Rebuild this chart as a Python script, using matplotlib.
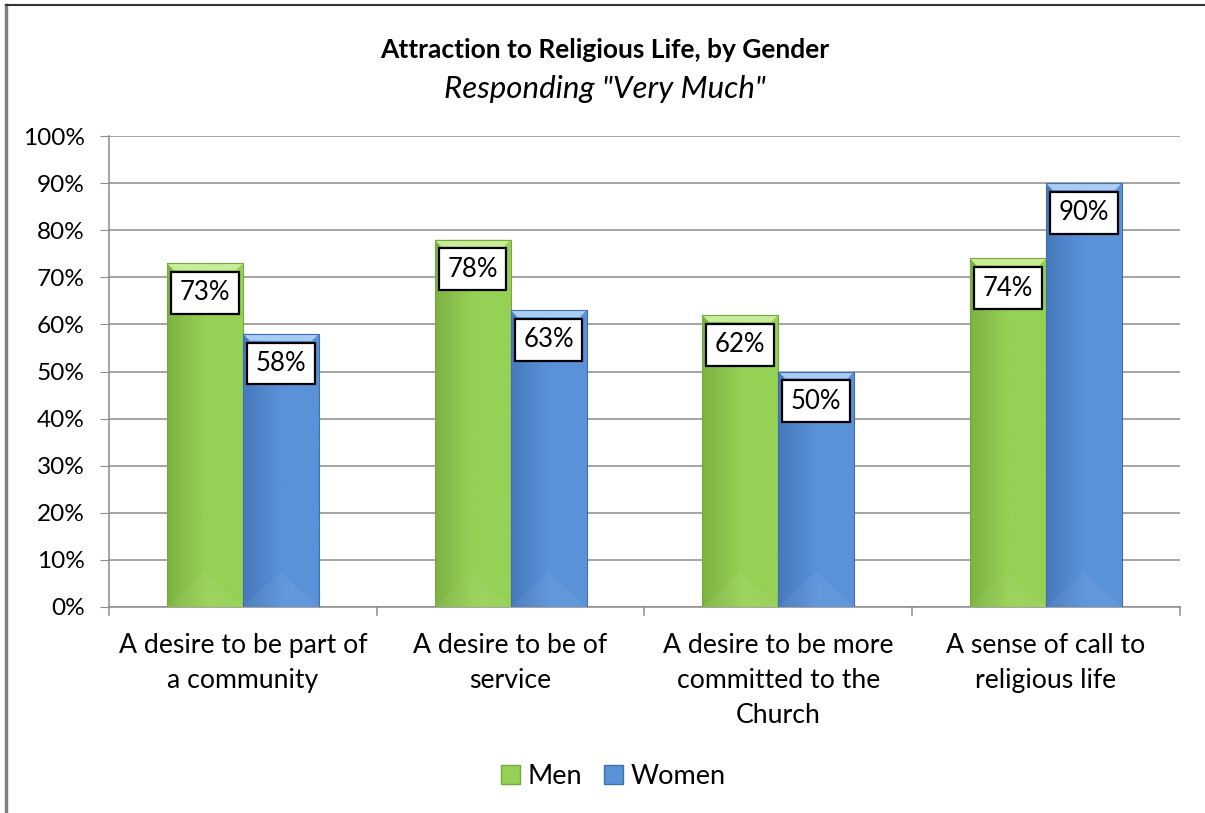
import numpy as np
import matplotlib.pyplot as plt
from matplotlib.patches import Polygon, Rectangle, Patch
from matplotlib.colors import LinearSegmentedColormap

plt.rcParams['font.family'] = ['Lato', 'DejaVu Sans']

# --- data ---
categories = ["A desire to be part of\na community",
              "A desire to be of\nservice",
              "A desire to be more\ncommitted to the\nChurch",
              "A sense of call to\nreligious life"]
men = [73, 78, 62, 74]
women = [58, 63, 50, 90]
series_names = ["Men", "Women"]

# colours: (dark left, main right, top bevel, edge)
styles = {
    "Men": ("#7DB343", "#95D155", "#C8EC98", "#76A83E"),
    "Women": ("#4779BD", "#5A92D8", "#A8CCF2", "#3F6FAE"),
}

fig = plt.figure(figsize=(12.05, 8.13), dpi=100)
ax = fig.add_axes([0.0905, 0.2534, 0.8885, 0.5793])

x = np.arange(len(categories))
w = 0.284
bev_y = 1.5
bev_x = 0.026


def bevel_bar(xc, val, name):
    dark, main, top, edge = styles[name]
    x0, x1 = xc - w / 2, xc + w / 2
    rect = Rectangle((x0, 0), w, val, facecolor=main, edgecolor='none', zorder=3)
    ax.add_patch(rect)
    cmap = LinearSegmentedColormap.from_list(name, [dark, main, main])
    grad = np.linspace(0, 1, 64).reshape(1, -1)
    im = ax.imshow(grad, cmap=cmap, extent=[x0, x1, 0, val], aspect='auto',
                   zorder=3.1, interpolation='bilinear')
    im.set_clip_path(rect)
    # bottom "roof" highlight
    ax.add_patch(Polygon([[x0, 0], [xc, 7.5], [x1, 0]], closed=True,
                         facecolor='white', alpha=0.05, edgecolor='none', zorder=3.2))
    # top bevel
    ax.add_patch(Polygon([[x0, val], [x1, val], [x1 - bev_x, val - bev_y],
                          [x0 + bev_x, val - bev_y]], closed=True,
                         facecolor=top, edgecolor='none', zorder=3.3))
    ax.add_patch(Rectangle((x0, 0), w, val, facecolor='none', edgecolor=edge,
                           linewidth=0.8, zorder=3.4))
    ax.text(xc, val - 6.3, f"{val}%", ha='center', va='center', fontsize=18.5,
            zorder=5,
            bbox=dict(boxstyle='square,pad=0.33', facecolor='white',
                      edgecolor='black', linewidth=1.6))


for i in range(len(categories)):
    bevel_bar(x[i] - w / 2, men[i], "Men")
    bevel_bar(x[i] + w / 2, women[i], "Women")

ax.set_xlim(-0.5, len(categories) - 0.5)
ax.set_ylim(0, 100)
ax.set_yticks(np.arange(0, 101, 10))
ax.set_yticklabels([f"{v}%" for v in range(0, 101, 10)], fontsize=17.6)
ax.yaxis.grid(True, color='#8c8c8c', linewidth=1.1)
ax.set_axisbelow(True)

ax.set_xticks(x)
ax.set_xticklabels(categories, fontsize=19.2, linespacing=1.5)
ax.tick_params(axis='x', length=0, pad=19)
ax.tick_params(axis='y', length=6.5, color='#8c8c8c', pad=11)
for b in np.arange(-0.5, len(categories) + 0.5, 1.0):
    ax.plot([b, b], [0, -1.8], color='#8c8c8c', linewidth=1.1, clip_on=False)

for s in ['top', 'right']:
    ax.spines[s].set_visible(False)
ax.spines['left'].set_color('#8c8c8c')
ax.spines['bottom'].set_color('#8c8c8c')
ax.spines['left'].set_linewidth(1.1)
ax.spines['bottom'].set_linewidth(1.1)

fig.text(0.502, 0.938, "Attraction to Religious Life, by Gender", ha='center',
         va='center', fontsize=19, fontweight='bold')
fig.text(0.502, 0.891, 'Responding "Very Much"', ha='center', va='center',
         fontsize=22.5, style='italic')

handles = [Patch(facecolor=styles[n][1], edgecolor=styles[n][3]) for n in series_names]
fig.legend(handles, series_names, loc='center', bbox_to_anchor=(0.509, 0.045),
           ncol=2, frameon=False, fontsize=19.5, handlelength=0.7, handleheight=0.7,
           handletextpad=0.3, columnspacing=0.8)

# outer chart frame (partly visible)
fig.add_artist(plt.Line2D([6 / 1205, 6 / 1205], [0, 1 - 5 / 813], color='#808080',
                          linewidth=2.5, transform=fig.transFigure))
fig.add_artist(plt.Line2D([6 / 1205, 1], [1 - 5 / 813, 1 - 5 / 813], color='#333333',
                          linewidth=1.5, transform=fig.transFigure))

fig.savefig("out.png", dpi=100)
